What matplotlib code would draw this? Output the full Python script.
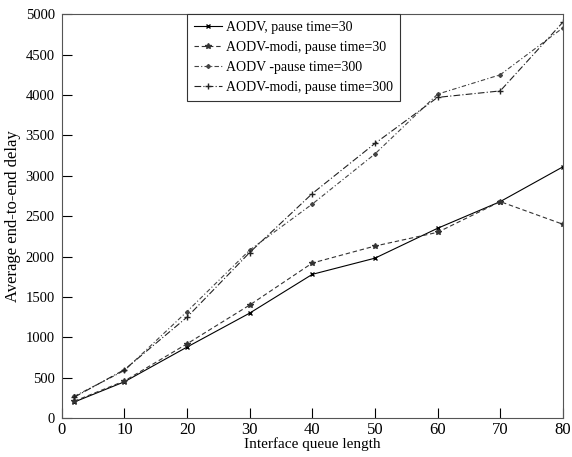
import matplotlib
matplotlib.use("Agg")
import matplotlib.pyplot as plt

queue_len = [2, 10, 20, 30, 40, 50, 60, 70, 80]
aodv_30 = [200, 450, 880, 1300, 1780, 1980, 2350, 2680, 3110]
modi_30 = [210, 460, 920, 1400, 1920, 2130, 2300, 2680, 2400]
aodv_300 = [270, 590, 1320, 2080, 2650, 3270, 4010, 4250, 4830]
modi_300 = [260, 600, 1250, 2050, 2780, 3400, 3970, 4050, 4900]

plt.rcParams["font.family"] = ["Liberation Serif", "DejaVu Serif"]

fig = plt.figure(figsize=(5.72, 4.57), dpi=100)
ax = fig.add_axes([0.108, 0.085, 0.876, 0.884])

ax.plot(queue_len, aodv_30, color="black", linestyle="-", linewidth=0.8,
        marker="x", markersize=3.5, label="AODV, pause time=30")
ax.plot(queue_len, modi_30, color="#333333", linestyle=(0, (4, 2.5)), linewidth=0.8,
        marker="*", markersize=4, label="AODV-modi, pause time=30")
ax.plot(queue_len, aodv_300, color="#444444", linestyle=(0, (4, 2, 1, 2)), linewidth=0.8,
        marker="D", markersize=2, label="AODV -pause time=300")
ax.plot(queue_len, modi_300, color="#222222", linestyle=(0, (6, 2, 1, 2)), linewidth=0.8,
        marker="+", markersize=5, label="AODV-modi, pause time=300")

ax.set_xlim(0, 80)
ax.set_ylim(0, 5000)
ax.set_xticks(range(0, 81, 10))
ax.set_yticks(range(0, 5001, 500))
ax.tick_params(direction="in", length=7, width=0.8, top=False, right=False)
ax.tick_params(axis="x", labelsize=12, pad=3)
ax.tick_params(axis="y", labelsize=10.5, pad=5)
ax.set_xlabel("Interface queue length", fontsize=11, labelpad=-1)
ax.set_ylabel("Average end-to-end delay", fontsize=12, labelpad=3)
for s in ax.spines.values():
    s.set_color("#555555")

leg = ax.legend(loc="upper left", bbox_to_anchor=(0.25, 1.0), fontsize=10,
                handlelength=2.0, handletextpad=0.3, borderpad=0.5,
                labelspacing=0.5, fancybox=False, framealpha=1,
                edgecolor="#333333", borderaxespad=0)
leg.get_frame().set_linewidth(0.8)

fig.savefig("out.png", dpi=100)
